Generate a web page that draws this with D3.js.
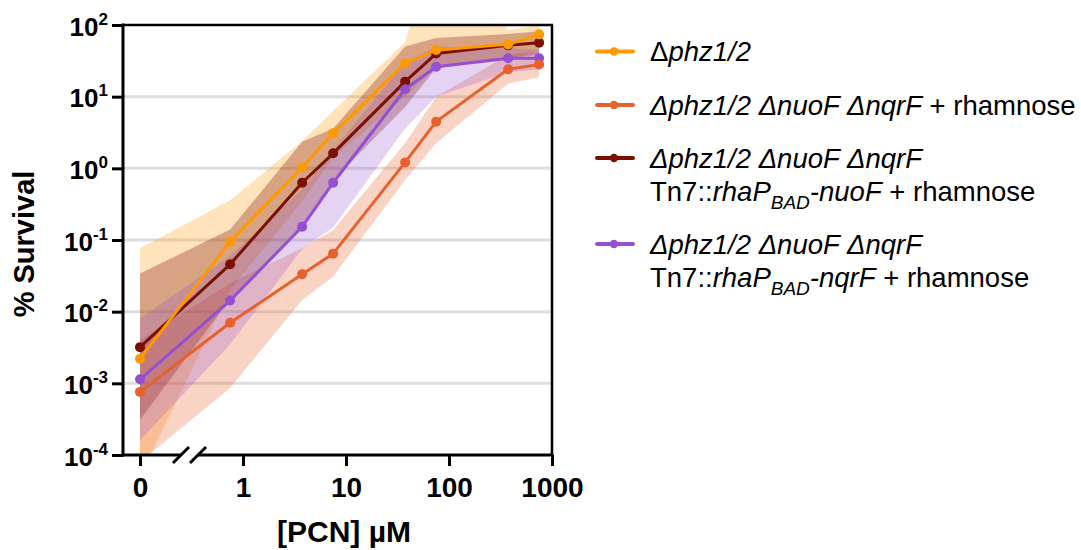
<!DOCTYPE html>
<html>
<head>
<meta charset="utf-8">
<script src="https://cdn.jsdelivr.net/npm/d3@7"></script>
<style>
  html, body { margin: 0; padding: 0; background: #fff; }
  svg { display: block; font-family: "Liberation Sans", Arial, sans-serif; }
  text { white-space: pre; }
</style>
</head>
<body>
<svg id="chart" width="1081" height="550"></svg>
<script>
// ---------------- data ----------------
const concentrations = [0, 0.75, 3.75, 7.5, 37.5, 75, 375, 750];   // PCN µM (0 drawn at the break position)

const phzMean  = [0.0022, 0.095, 1.03, 3.08, 29.2, 44.8, 53.7, 74];
const phzUpper = [0.077, 0.36, 2.4, 6.3, 58, 1500, 85, 100];
const phzLower = [0.00005, 0.02, 0.35, 1.4, 10, 25, 32, 45];

const dblMean  = [0.00076, 0.0070, 0.0332, 0.0645, 1.21, 4.48, 24.1, 28.2];
const dblUpper = [0.004, 0.025, 0.077, 0.138, 2.26, 10, 38, 43];
const dblLower = [0.00008, 0.00086, 0.0146, 0.0308, 0.69, 2.24, 15.3, 18.6];

const nuoMean  = [0.0032, 0.0458, 0.63, 1.62, 16.2, 40, 52, 56.7];
const nuoUpper = [0.034, 0.14, 2.35, 3.6, 50, 66, 75, 82];
const nuoLower = [0.00031, 0.015, 0.16, 0.69, 7.2, 25, 35, 38];

const nqrMean  = [0.00114, 0.0143, 0.153, 0.63, 12.7, 26.2, 34.3, 34.3];
const nqrUpper = [0.008, 0.06, 0.5, 1.8, 30, 50, 47, 45];
const nqrLower = [0.00016, 0.0035, 0.075, 0.15, 3.6, 10, 22, 24];

const xTickValues = [0, 1, 10, 100, 1000];
const xTickLabels = ["0", "1", "10", "100", "1000"];
const yTickExponents = [-4, -3, -2, -1, 0, 1, 2];

const colors = { phz: "#FF9900", dbl: "#E8602C", nuo: "#7A1000", nqr: "#9450D0" };

(function () {
// ---------------- layout ----------------
const svg = d3.select("#chart");
const pL = 123, pR = 552, pT = 25, pB = 455;
const zeroPos = 0.1;   // where the "0" concentration is placed on the log axis
const xv = d => (d === 0 ? zeroPos : d);

const x = d3.scaleLog().domain([0.1, 1000]).range([140, 552]);
const y = d3.scaleLog().domain([1e-4, 100]).range([pB, pT]);

// clip
svg.append("defs").append("clipPath").attr("id", "plotclip")
  .append("rect").attr("x", pL).attr("y", pT).attr("width", pR - pL).attr("height", pB - pT);

// gridlines
svg.append("g").selectAll("line")
  .data(yTickExponents.filter(e => e > -4 && e < 2))
  .join("line")
  .attr("x1", pL).attr("x2", pR)
  .attr("y1", e => y(Math.pow(10, e))).attr("y2", e => y(Math.pow(10, e)))
  .attr("stroke", "#dedede").attr("stroke-width", 3);

// series
const series = [
  { key: "nuo", mean: nuoMean, up: nuoUpper, lo: nuoLower, opacity: 0.3 },
  { key: "nqr", mean: nqrMean, up: nqrUpper, lo: nqrLower, opacity: 0.25 },
  { key: "dbl", mean: dblMean, up: dblUpper, lo: dblLower, opacity: 0.28 },
  { key: "phz", mean: phzMean, up: phzUpper, lo: phzLower, opacity: 0.27 }
];

const bandG = svg.append("g").attr("clip-path", "url(#plotclip)");
const areaGen = d3.area()
  .x(d => x(xv(d.c)))
  .y0(d => y(d.lo))
  .y1(d => y(d.up));

["phz", "dbl", "nuo", "nqr"].forEach(k => {
  const s = series.find(t => t.key === k);
  const pts = concentrations.map((c, i) => ({ c, lo: s.lo[i], up: s.up[i] }));
  bandG.append("path").datum(pts)
    .attr("d", areaGen)
    .attr("fill", colors[k]).attr("fill-opacity", s.opacity)
    .attr("stroke", "none");
});

const lineGen = d3.line().x(d => x(xv(d.c))).y(d => y(d.v));
const lineG = svg.append("g");
series.forEach(s => {
  const pts = concentrations.map((c, i) => ({ c, v: s.mean[i] }));
  lineG.append("path").datum(pts)
    .attr("d", lineGen)
    .attr("fill", "none").attr("stroke", colors[s.key]).attr("stroke-width", 3)
    .attr("stroke-linejoin", "round");
  lineG.selectAll(null).data(pts).join("circle")
    .attr("cx", d => x(xv(d.c))).attr("cy", d => y(d.v)).attr("r", 5)
    .attr("fill", colors[s.key]);
});

// frame: top and right
svg.append("line").attr("x1", pL).attr("x2", pR + 1).attr("y1", pT).attr("y2", pT)
  .attr("stroke", "#000").attr("stroke-width", 2.5);
svg.append("line").attr("x1", pR).attr("x2", pR).attr("y1", pT).attr("y2", pB)
  .attr("stroke", "#000").attr("stroke-width", 2.5);

// y axis
const yAxis = d3.axisLeft(y)
  .tickValues(yTickExponents.map(e => Math.pow(10, e)))
  .tickSize(11).tickSizeOuter(0).tickFormat("");
const yg = svg.append("g").attr("transform", `translate(${pL},0)`).call(yAxis);
yg.select(".domain").attr("stroke", "#000").attr("stroke-width", 3)
  .attr("d", `M0,${pT - 1.5}V${pB + 1.5}`);
yg.selectAll(".tick line").attr("stroke", "#000").attr("stroke-width", 3);
yg.selectAll(".tick").each(function (v) {
  const e = Math.round(Math.log10(v));
  const t = d3.select(this).append("text")
    .attr("x", -15).attr("y", 10)
    .attr("text-anchor", "end").attr("fill", "#000")
    .attr("font-weight", "bold").attr("font-size", 26)
    .attr("font-family", "Liberation Sans, Arial, sans-serif");
  t.append("tspan").text("10");
  t.append("tspan").attr("font-size", 17).attr("dy", -11).text(e < 0 ? "-" + Math.abs(e) : String(e));
});

// x axis (with break)
const xAxis = d3.axisBottom(x)
  .tickValues(xTickValues.map(xv))
  .tickSize(11).tickSizeOuter(0)
  .tickFormat((d, i) => xTickLabels[i]);
const xg = svg.append("g").attr("transform", `translate(0,${pB})`).call(xAxis);
xg.select(".domain").remove();
xg.selectAll(".tick line").attr("stroke", "#000").attr("stroke-width", 3);
xg.selectAll(".tick text")
  .attr("y", 42).attr("dy", null)
  .attr("fill", "#000").attr("font-weight", "bold").attr("font-size", 28)
  .attr("font-family", "Liberation Sans, Arial, sans-serif");
xg.append("line").attr("x1", pL - 1.5).attr("x2", 181).attr("y1", 0).attr("y2", 0)
  .attr("stroke", "#000").attr("stroke-width", 3);
xg.append("line").attr("x1", 198).attr("x2", pR + 1.2).attr("y1", 0).attr("y2", 0)
  .attr("stroke", "#000").attr("stroke-width", 3);
xg.append("line").attr("x1", 173).attr("y1", 8).attr("x2", 189).attr("y2", -8)
  .attr("stroke", "#000").attr("stroke-width", 3);
xg.append("line").attr("x1", 190).attr("y1", 8).attr("x2", 206).attr("y2", -8)
  .attr("stroke", "#000").attr("stroke-width", 3);

// axis titles
svg.append("text").attr("x", 344).attr("y", 542).attr("text-anchor", "middle")
  .attr("font-weight", "bold").attr("font-size", 30).text("[PCN] µM");
svg.append("text").attr("transform", "translate(34,244) rotate(-90)").attr("text-anchor", "middle")
  .attr("font-weight", "bold").attr("font-size", 29).text("% Survival");

// legend
const legendItems = [
  { key: "phz", ly: 51.5, lines: [
      [{ t: "Δ" }, { t: "phz1/2", i: true }]
    ], ys: [61] },
  { key: "dbl", ly: 105, lines: [
      [{ t: "Δphz1/2 ΔnuoF ΔnqrF", i: true }, { t: " + rhamnose" }]
    ], ys: [115] },
  { key: "nuo", ly: 158, lines: [
      [{ t: "Δphz1/2 ΔnuoF ΔnqrF", i: true }],
      [{ t: "Tn7::" }, { t: "rhaP", i: true }, { t: "BAD", i: true, sub: true }, { t: "-nuoF", i: true }, { t: " + rhamnose" }]
    ], ys: [168, 201] },
  { key: "nqr", ly: 244, lines: [
      [{ t: "Δphz1/2 ΔnuoF ΔnqrF", i: true }],
      [{ t: "Tn7::" }, { t: "rhaP", i: true }, { t: "BAD", i: true, sub: true }, { t: "-nqrF", i: true }, { t: " + rhamnose" }]
    ], ys: [254, 287] }
];
const lg = svg.append("g");
legendItems.forEach(item => {
  lg.append("line").attr("x1", 597).attr("x2", 633).attr("y1", item.ly).attr("y2", item.ly)
    .attr("stroke", colors[item.key]).attr("stroke-width", 4).attr("stroke-linecap", "round");
  lg.append("circle").attr("cx", 614).attr("cy", item.ly).attr("r", 4.2).attr("fill", colors[item.key]);
  item.lines.forEach((parts, li) => {
    const t = lg.append("text").attr("x", 650).attr("y", item.ys[li])
      .attr("font-size", 27.5).attr("fill", "#000");
    let shifted = false;
    parts.forEach(p => {
      const ts = t.append("tspan").text(p.t);
      if (p.i) ts.attr("font-style", "italic");
      if (p.sub) { ts.attr("font-size", 19).attr("dy", 8); shifted = true; }
      else if (shifted) { ts.attr("dy", -8); shifted = false; }
    });
  });
});
})();
</script>
</body>
</html>
